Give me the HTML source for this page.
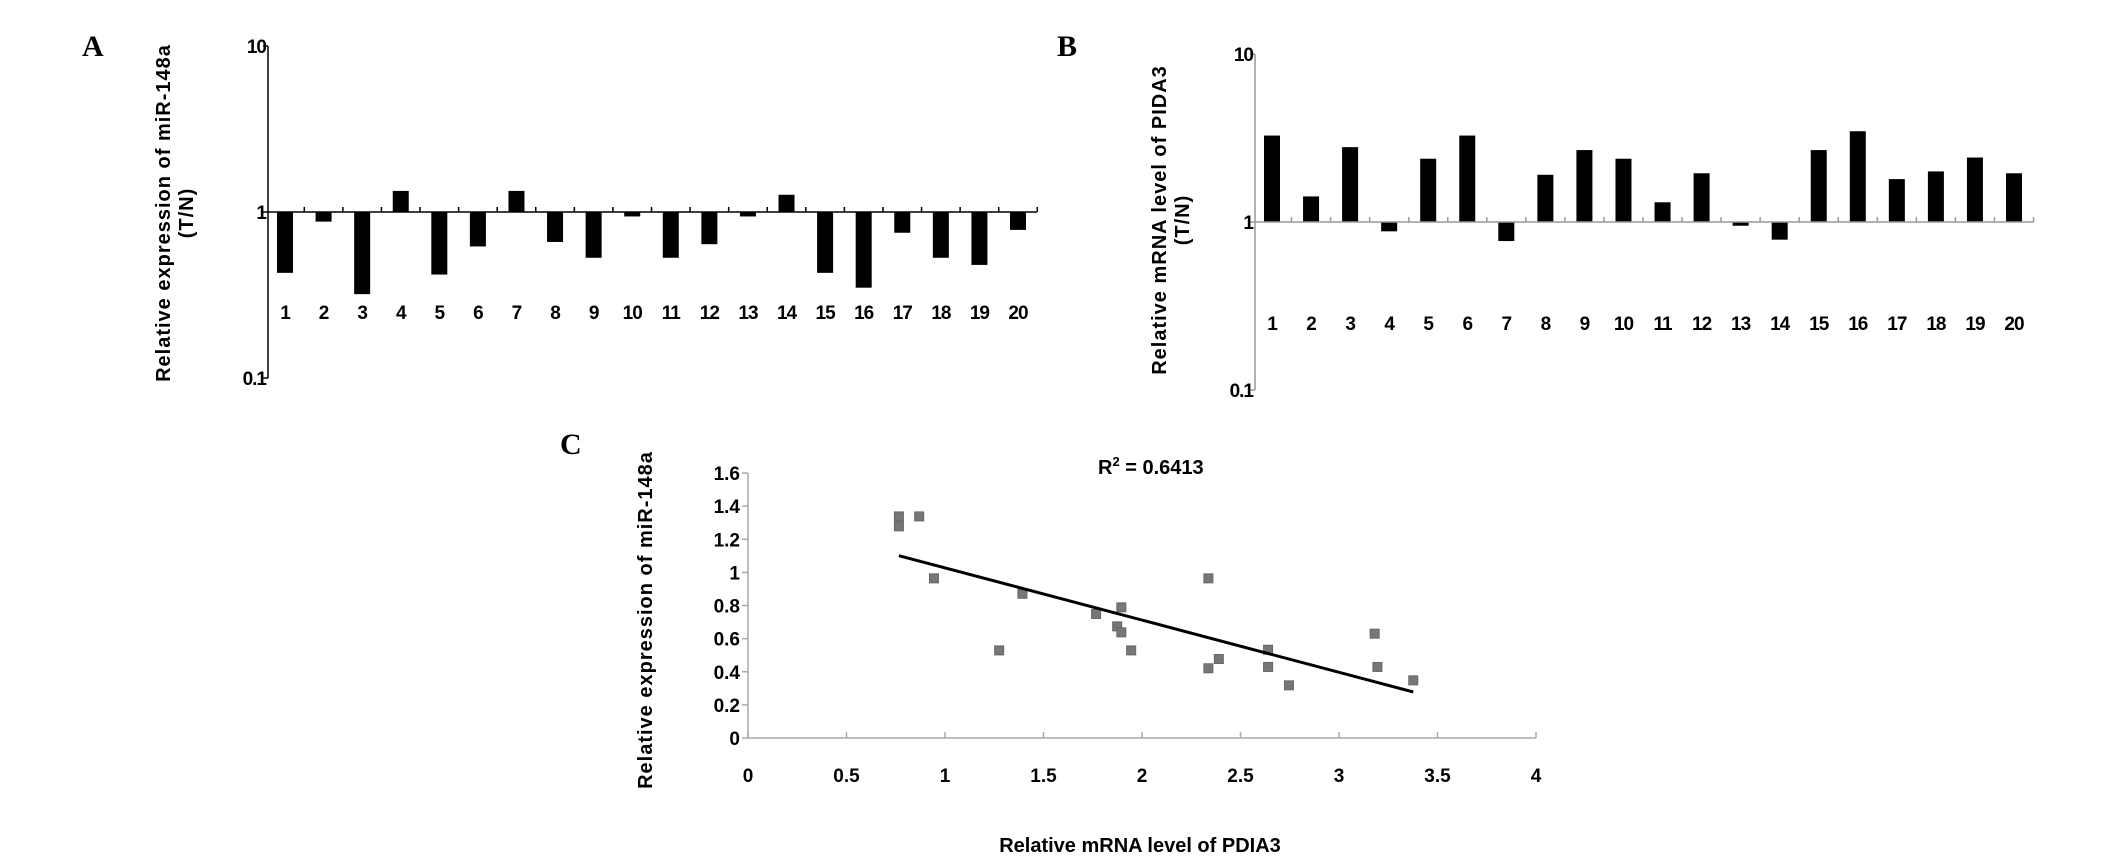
<!DOCTYPE html>
<html><head><meta charset="utf-8"><style>
html,body{margin:0;padding:0;background:#fff;}
svg{display:block;font-family:"Liberation Sans",Arial,sans-serif;}
</style></head><body>
<svg id="fig" width="2126" height="868" viewBox="0 0 2126 868">
<text x="82" y="56" font-family="Liberation Serif,serif" font-weight="bold" font-size="30">A</text>
<text x="1057" y="56" font-family="Liberation Serif,serif" font-weight="bold" font-size="30">B</text>
<text x="560" y="454" font-family="Liberation Serif,serif" font-weight="bold" font-size="30">C</text>
<g id="ga"></g>
<g id="gb"></g>
<g id="gc"></g>
</svg>
<script>
const categories = ["1","2","3","4","5","6","7","8","9","10","11","12","13","14","15","16","17","18","19","20"];
const valuesA = [0.43,0.875,0.32,1.34,0.42,0.62,1.34,0.66,0.53,0.94,0.53,0.64,0.94,1.27,0.43,0.35,0.75,0.53,0.48,0.78];
const valuesB = [3.27,1.42,2.79,0.88,2.38,3.27,0.77,1.91,2.68,2.38,1.31,1.95,0.95,0.785,2.68,3.47,1.80,2.0,2.42,1.95];
const logTicks = [10,1,0.1];
const logTickLabels = ["10","1","0.1"];
const scatterX = [0.766,0.766,0.869,0.944,1.393,1.275,1.767,1.895,1.874,1.895,1.945,2.337,2.337,2.39,2.64,2.64,2.746,3.181,3.195,3.377];
const scatterY = [1.338,1.278,1.338,0.964,0.871,0.529,0.749,0.789,0.674,0.638,0.529,0.964,0.421,0.477,0.533,0.429,0.318,0.63,0.429,0.348];
const fitX = [0.766,3.377];
const fitY = [1.101,0.278];
const xTicksC = [0,0.5,1,1.5,2,2.5,3,3.5,4];
const xTickLabelsC = ["0","0.5","1","1.5","2","2.5","3","3.5","4"];
const yTicksC = [0,0.2,0.4,0.6,0.8,1,1.2,1.4,1.6];
const yTickLabelsC = ["0","0.2","0.4","0.6","0.8","1","1.2","1.4","1.6"];

const NS="http://www.w3.org/2000/svg";
function mk(parent,tag,attrs,text){const e=document.createElementNS(NS,tag);for(const k in attrs)e.setAttribute(k,attrs[k]);if(text!==undefined)e.textContent=text;parent.appendChild(e);return e;}

function barChart(g,cfg,vals,titleLines,prefix){
  const y=v=>cfg.y1-Math.log10(v)*cfg.dec;
  const n=categories.length;
  const x=i=>cfg.xb0+(cfg.xb1-cfg.xb0)*i/(n-1);
  let ax=mk(g,'line',{x1:cfg.ax,y1:y(10),x2:cfg.ax,y2:y(0.1),stroke:cfg.axisColor,'stroke-width':1.5});
  
  
  logTicks.forEach((t,i)=>{
    let tk=mk(g,'line',{x1:cfg.ax-5,y1:y(t),x2:cfg.ax,y2:y(t),stroke:cfg.axisColor,'stroke-width':1.5});
    
    
    let tl=mk(g,'text',{x:cfg.ax-2,y:y(t)+7,'text-anchor':'end','font-size':19,'font-weight':'bold','letter-spacing':'-1'},logTickLabels[i]);
    
    
  });
  const step=(cfg.xb1-cfg.xb0)/(n-1);
  vals.forEach((v,i)=>{
    const yt=Math.min(y(v),cfg.y1), yb=Math.max(y(v),cfg.y1);
    let b=mk(g,'rect',{x:x(i)-8,y:yt,width:16,height:Math.max(yb-yt,1),fill:'#000'});
    
    
    let l=mk(g,'text',{x:x(i),y:cfg.labY+7,'text-anchor':'middle','font-size':19,'font-weight':'bold','letter-spacing':'-1'},categories[i]);
    
    
  });
  for(let i=0;i<n;i++){
    let tk=mk(g,'line',{x1:x(i)+step/2,y1:cfg.y1-5,x2:x(i)+step/2,y2:cfg.y1,stroke:cfg.axisColor,'stroke-width':1.5});
    
    
  }
  let base=mk(g,'line',{x1:cfg.ax,y1:cfg.y1,x2:cfg.axEnd,y2:cfg.y1,stroke:cfg.axisColor,'stroke-width':1.5});
  
  
  titleLines.forEach((t,i)=>{
    const tx=cfg.titleX+i*23, ty=cfg.titleY;
    let tt=mk(g,'text',{x:tx,y:ty,transform:`rotate(-90 ${tx} ${ty})`,'text-anchor':'middle','font-size':20,'font-weight':'bold','letter-spacing':'1'},t);
    
    
  });
}
barChart(document.getElementById('ga'),{ax:268,axEnd:1037,y1:212,dec:166,xb0:285,xb1:1018,labY:312,axisColor:'#000',titleX:170,titleY:213},valuesA,["Relative expression of miR-148a","(T/N)"],'a');
barChart(document.getElementById('gb'),{ax:1255,axEnd:2034,y1:222,dec:168,xb0:1272,xb1:2014,labY:323,axisColor:'#999',titleX:1166,titleY:220},valuesB,["Relative mRNA level of PIDA3","(T/N)"],'b');

(function(){
  const g=document.getElementById('gc');
  const X=v=>748+v*197, Y=v=>738-v*165.6;
  let ya=mk(g,'line',{x1:748,y1:Y(1.6),x2:748,y2:Y(0),stroke:'#aaa','stroke-width':1.5});
  
  
  let xa=mk(g,'line',{x1:748,y1:Y(0),x2:X(4),y2:Y(0),stroke:'#aaa','stroke-width':1.5});
  
  
  yTicksC.forEach((t,i)=>{
    let tk=mk(g,'line',{x1:742,y1:Y(t),x2:748,y2:Y(t),stroke:'#aaa','stroke-width':1.5});
    
    
    let tl=mk(g,'text',{x:740,y:Y(t)+7,'text-anchor':'end','font-size':19,'font-weight':'bold'},yTickLabelsC[i]);
    
    
  });
  xTicksC.forEach((t,i)=>{
    let tk=mk(g,'line',{x1:X(t),y1:Y(0)-6,x2:X(t),y2:Y(0),stroke:'#aaa','stroke-width':1.5});
    
    
    let tl=mk(g,'text',{x:X(t),y:782,'text-anchor':'middle','font-size':19,'font-weight':'bold'},xTickLabelsC[i]);
    
    
  });
  scatterX.forEach((v,i)=>{
    let p=mk(g,'rect',{x:X(v)-4.5,y:Y(scatterY[i])-4.5,width:9,height:9,fill:'#777',stroke:'#666','stroke-width':1});
    
    
  });
  let fl=mk(g,'line',{x1:X(fitX[0]),y1:Y(fitY[0]),x2:X(fitX[1]),y2:Y(fitY[1]),stroke:'#000','stroke-width':3});
  
  
  let r=mk(g,'text',{x:1098,y:474,'font-size':20,'font-weight':'bold'});
  
  
  r.innerHTML='R<tspan dy="-8" font-size="13">2</tspan><tspan dy="8"> = 0.6413</tspan>';
  let xt=mk(g,'text',{x:1140,y:852,'text-anchor':'middle','font-size':20,'font-weight':'bold'},'Relative mRNA level of PDIA3');
  
  
  let yt=mk(g,'text',{x:652,y:620,transform:'rotate(-90 652 620)','text-anchor':'middle','font-size':20,'font-weight':'bold','letter-spacing':'1'},'Relative expression of miR-148a');
  
  
})();
</script>
</body></html>
